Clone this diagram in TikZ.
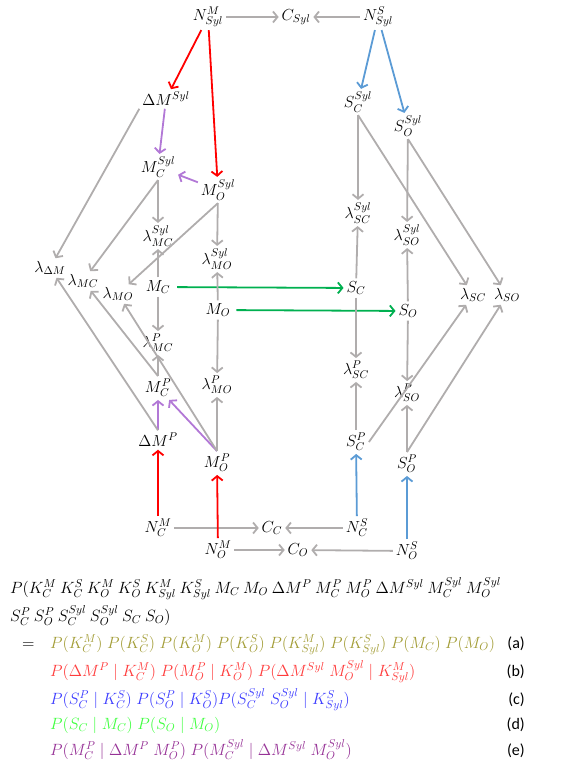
\RequirePackage{fix-cm}
\documentclass[tikz,border=0pt]{standalone}
\usepackage{amsmath,amssymb}
\usepackage{xcolor}
\usepackage{fontspec}
\newfontfamily\labfont{Carlito}
\usepackage{tikz}
\usetikzlibrary{arrows.meta, positioning}

\definecolor{arrgray}{RGB}{176,173,173}
\definecolor{arrred}{RGB}{255,0,0}
\definecolor{arrblue}{RGB}{91,155,213}
\definecolor{arrgreen}{RGB}{0,176,80}
\definecolor{arrpurple}{RGB}{178,120,214}
\definecolor{eqolive}{RGB}{163,157,55}
\definecolor{eqred}{RGB}{255,60,60}
\definecolor{eqblue}{RGB}{60,60,255}
\definecolor{eqgreen}{RGB}{64,255,64}
\definecolor{eqpurple}{RGB}{150,50,150}

\tikzset{
  var/.style={inner sep=1pt, outer sep=2pt, font=\fontsize{16}{18}\selectfont},
  dep/.style={line width=1.8pt, draw=arrgray, -{Straight Barb[length=4.5pt,width=11pt]}},
  depred/.style={dep, draw=arrred},
  depblue/.style={dep, draw=arrblue},
  depgreen/.style={dep, draw=arrgreen},
  deppurple/.style={dep, draw=arrpurple},
  eq/.style={inner sep=0pt, anchor=base west, font=\fontsize{16.3}{19}\selectfont},
  eqlab/.style={inner sep=0pt, anchor=base east, font=\labfont\fontsize{16}{19}\selectfont}
}

\begin{document}
\begin{tikzpicture}[x=1pt, y=-1pt]
        \useasboundingbox (0,0) rectangle (568,767);

        % top row
        \node[var] (NMSyl) at (208,17) {$N^M_{Syl}$};
        \node[var] (CSyl) at (296,17) {$C_{Syl}$};
        \node[var] (NSSyl) at (378,17) {$N^S_{Syl}$};

        % M side, syllable level
        \node[var] (dMSyl) at (166,99) {$\Delta M^{Syl}$};
        \node[var] (MCSyl) at (158,167) {$M_C^{Syl}$};
        \node[var] (MOSyl) at (218,190) {$M_O^{Syl}$};
        \node[var] (lMCSyl) at (158,236) {$\lambda_{MC}^{Syl}$};
        \node[var] (lMOSyl) at (217,259) {$\lambda_{MO}^{Syl}$};

        % M side, lambdas and motor nodes
        \node[var] (ldM) at (50,268) {$\lambda_{\Delta M}$};
        \node[var] (lMC) at (83,281) {$\lambda_{MC}$};
        \node[var] (lMO) at (118,294) {$\lambda_{MO}$};
        \node[var] (MC) at (158,287) {$M_C$};
        \node[var] (MO) at (218,310) {$M_O$};

        % M side, phoneme level
        \node[var] (lMCP) at (158,343) {$\lambda_{MC}^{P}$};
        \node[var] (lMOP) at (217,385) {$\lambda_{MO}^{P}$};
        \node[var] (MCP) at (158,388) {$M_C^{P}$};
        \node[var] (dMP) at (158,440) {$\Delta M^{P}$};
        \node[var] (MOP) at (217,463) {$M_O^{P}$};

        % bottom row
        \node[var] (NMC) at (158,528) {$N^M_C$};
        \node[var] (CC) at (272,528) {$C_C$};
        \node[var] (NSC) at (357,528) {$N^S_C$};
        \node[var] (NMO) at (218,550) {$N^M_O$};
        \node[var] (CO) at (298,550) {$C_O$};
        \node[var] (NSO) at (407,551) {$N^S_O$};

        % S side
        \node[var] (SCSyl) at (358,102) {$S_C^{Syl}$};
        \node[var] (SOSyl) at (408,126) {$S_O^{Syl}$};
        \node[var] (lSCSyl) at (358,213) {$\lambda_{SC}^{Syl}$};
        \node[var] (lSOSyl) at (407,235) {$\lambda_{SO}^{Syl}$};
        \node[var] (SC) at (356,288) {$S_C$};
        \node[var] (SO) at (408,311) {$S_O$};
        \node[var] (lSC) at (473,295) {$\lambda_{SC}$};
        \node[var] (lSO) at (507,295) {$\lambda_{SO}$};
        \node[var] (lSCP) at (356,370) {$\lambda_{SC}^{P}$};
        \node[var] (lSOP) at (407,393) {$\lambda_{SO}^{P}$};
        \node[var] (SCP) at (356,442) {$S_C^{P}$};
        \node[var] (SOP) at (407,464) {$S_O^{P}$};

        % communication arrows
        \draw[dep] (NMSyl) -- (CSyl);
        \draw[dep] (NSSyl) -- (CSyl);
        \draw[dep] (NMC) -- (CC);
        \draw[dep] (NSC) -- (CC);
        \draw[dep] (NMO) -- (CO);
        \draw[dep] (NSO) -- (CO);

        % motor intentions
        \draw[depred] (NMSyl) -- (dMSyl);
        \draw[depred] (NMSyl) -- (MOSyl);
        \draw[depred] (NMC) -- (dMP);
        \draw[depred] (NMO) -- (MOP);

        % sensory intentions
        \draw[depblue] (NSSyl) -- (SCSyl);
        \draw[depblue] (NSSyl) -- (SOSyl);
        \draw[depblue] (NSC) -- (SCP);
        \draw[depblue] (NSO) -- (SOP);

        % motor to sensory
        \draw[depgreen, shorten <=4pt] (MC) -- (SC);
        \draw[depgreen, shorten <=3pt] (MO) -- (SO);

        % consonant from vowel and delta
        \draw[deppurple] (dMSyl) -- (MCSyl);
        \draw[deppurple] (MOSyl) -- (MCSyl);
        \draw[deppurple] (dMP) -- (MCP);
        \draw[deppurple] (MOP.north) -- (MCP);

        % M side, to lambdas
        \draw[dep] (dMSyl.south west) -- (ldM);
        \draw[dep] (MCSyl.south) -- (lMC);
        \draw[dep] (MCSyl) -- (lMCSyl);
        \draw[dep] (MOSyl.south) -- (lMO);
        \draw[dep] (MOSyl) -- (lMOSyl);
        \draw[dep] (MC) -- (lMCSyl);
        \draw[dep] (MO) -- (lMOSyl);
        \draw[dep] (MC) -- (lMCP);
        \draw[dep] (MO) -- (lMOP);
        \draw[dep] (MCP) -- (lMCP);
        \draw[dep] (MOP) -- (lMOP);
        \draw[dep] (dMP.north) -- (ldM);
        \draw[dep] (MCP.north) -- (lMC);
        \draw[dep] (MOP.north) -- (lMO);

        % S side, to lambdas
        \draw[dep] (SCSyl) -- (lSCSyl);
        \draw[dep] (SCSyl.south) -- (lSC);
        \draw[dep] (SOSyl) -- (lSOSyl);
        \draw[dep] (SOSyl.south) -- (lSO);
        \draw[dep] (SC) -- (lSCSyl);
        \draw[dep] (SO) -- (lSOSyl);
        \draw[dep] (SC) -- (lSCP);
        \draw[dep] (SO) -- (lSOP);
        \draw[dep] (SCP) -- (lSCP);
        \draw[dep] (SOP) -- (lSOP);
        \draw[dep] (SCP.east) -- (lSC);
        \draw[dep] (SOP.north) -- (lSO);

        % joint distribution
        \node[eq] (joint1) at (10,593) {$P(K_C^M\: K_C^S\: K_O^M\: K_O^S\: K_{Syl}^M\: K_{Syl}^S\: M_C\: M_O\: \Delta M^P\: M_C^P\: M_O^P\: \Delta M^{Syl}\: M_C^{Syl}\: M_O^{Syl}$};
        \node[eq] (joint2) at (10,621) {$S_C^P\: S_O^P\: S_C^{Syl}\: S_O^{Syl}\: S_C\: S_O)$};
        \node[eq] (eqsign) at (22,648) {$=$};
        \node[eq, text=eqolive] (terma) at (50,648) {$P(K_C^M)\; P(K_C^S)\; P(K_O^M)\; P(K_O^S)\; P(K_{Syl}^M)\; P(K_{Syl}^S)\; P(M_C)\; P(M_O)$};
        \node[eq, text=eqred] (termb) at (50,676) {$P(\Delta M^P \mid K_C^M)\; P(M_O^P \mid K_O^M)\; P(\Delta M^{Syl}\; M_O^{Syl} \mid K_{Syl}^M)$};
        \node[eq, text=eqblue] (termc) at (50,704) {$P(S_C^P \mid K_C^S)\; P(S_O^P \mid K_O^S)P(S_C^{Syl}\; S_O^{Syl} \mid K_{Syl}^S)$};
        \node[eq, text=eqgreen] (termd) at (50,729) {$P(S_C \mid M_C)\; P(S_O \mid M_O)$};
        \node[eq, text=eqpurple] (terme) at (50,755) {$P(M_C^P \mid \Delta M^P\; M_O^P)\; P(M_C^{Syl} \mid \Delta M^{Syl}\; M_O^{Syl})$};

        % term labels
        \node[eqlab] (laba) at (525,648) {(a)};
        \node[eqlab] (labb) at (525,676) {(b)};
        \node[eqlab] (labc) at (525,704) {(c)};
        \node[eqlab] (labd) at (525,729) {(d)};
        \node[eqlab] (labe) at (525,755) {(e)};
    \end{tikzpicture}
\end{document}
